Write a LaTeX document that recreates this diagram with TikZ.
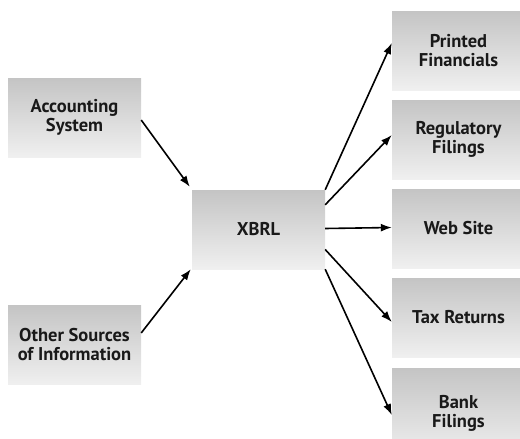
\documentclass[tikz,border=0pt]{standalone}
\usepackage{fontspec}
\setmainfont{PT Sans}
\usetikzlibrary{arrows.meta}

\tikzset{
  box/.style={rectangle, top color=black!23, bottom color=black!6, draw=none,
    minimum width=133pt, minimum height=79pt, align=center,
    font=\bfseries\fontsize{18.5}{19}\selectfont, text=black!90},
  flow/.style={-{Latex[length=11pt,width=8pt]}, line width=1.6pt}
}

\begin{document}
\begin{tikzpicture}[x=1pt, y=-1pt]
\useasboundingbox (0,0) rectangle (520,439);
\clip (0,0) rectangle (520,439);
\node (accounting) [box] at (74.5,117.5) {Accounting\\System};
\node (other) [box] at (74.5,345) {Other Sources\\of Information};
\node (xbrl) [box] at (258.5,229.5) {XBRL};
\node (printed) [box] at (458.5,50.5) {Printed\\Financials};
\node (regulatory) [box] at (458.5,139.5) {Regulatory\\Filings};
\node (web) [box] at (458.5,228.5) {Web Site};
\node (tax) [box] at (458.5,317.5) {Tax Returns};
\node (bank) [box, minimum height=90pt] at (458.5,413) {Bank\\Filings};

\draw[flow] ([yshift=-2.5pt]accounting.east) -- ([shift={(-2pt,3pt)}]xbrl.north west);
\draw[flow] ([yshift=12pt]other.east) -- ([shift={(-1pt,0pt)}]xbrl.south west);
\draw[flow] (xbrl.north east) -- ([yshift=7.5pt]printed.west);
\draw[flow] ([yshift=-15pt]xbrl.north east) -- ([yshift=4.5pt]regulatory.west);
\draw[flow] ([yshift=1pt]xbrl.east) -- ([yshift=1pt]web.west);
\draw[flow] ([yshift=-20pt]xbrl.east) -- ([yshift=-4.5pt]tax.west);
\draw[flow] (xbrl.south east) -- ([yshift=-2pt]bank.west);
\end{tikzpicture}
\end{document}
